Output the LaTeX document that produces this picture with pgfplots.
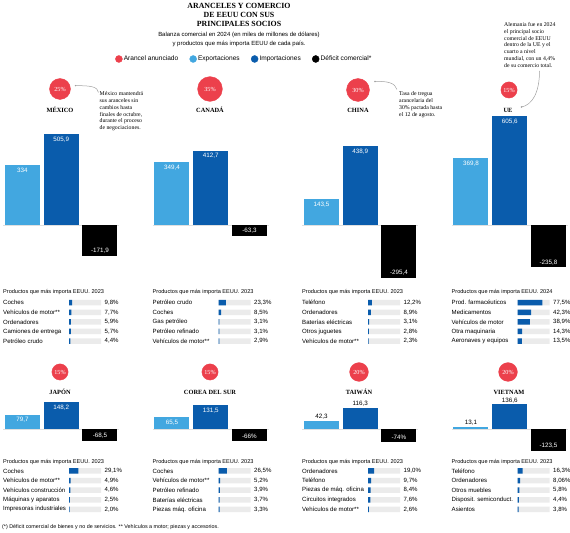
\documentclass[border=0pt]{standalone}
\usepackage{pgfplots}
\pgfplotsset{compat=1.18}
\usepackage{fontspec}
\setmainfont{Liberation Sans}
\newfontfamily\serifface{Liberation Serif}

\definecolor{tred}{RGB}{236,64,76}
\definecolor{expblue}{RGB}{66,167,224}
\definecolor{impblue}{RGB}{10,92,172}
\definecolor{trackgrey}{RGB}{235,235,235}
\definecolor{leadgrey}{RGB}{160,160,160}

\newcommand{\titlefont}{\serifface\bfseries\fontsize{7.9}{9}\selectfont}
\newcommand{\subfont}{\fontsize{6}{7}\selectfont}
\newcommand{\legfont}{\fontsize{6.6}{7}\selectfont}
\newcommand{\countryfont}{\serifface\bfseries\fontsize{6.4}{7}\selectfont}
\newcommand{\notefont}{\serifface\fontsize{5.8}{6.8}\selectfont}
\newcommand{\bubblefont}{\serifface\fontsize{6.2}{6.5}\selectfont}
\newcommand{\barfont}{\fontsize{6.3}{7}\selectfont}
\newcommand{\listfont}{\fontsize{6.1}{7}\selectfont}
\newcommand{\headfont}{\fontsize{5.6}{7}\selectfont}
\newcommand{\footfont}{\fontsize{5.4}{7}\selectfont}

\pgfplotsset{
  barpanel/.style={hide axis, clip=false, anchor=south west,
    x=38.75bp, y=0.18bp, xmin=-0.5, xmax=2.5, ymin=-300, ymax=620,
    ybar, bar width=35bp, bar shift=0pt,
    point meta=explicit symbolic, nodes near coords,
    every node near coord/.append style={font=\barfont, inner sep=1bp},
    every axis plot/.append style={draw=none}},
  inlab/.style={every node near coord/.append style={anchor=north, yshift=-1.6bp, text=white}},
  toplab/.style={every node near coord/.append style={anchor=south, yshift=0.4bp, text=black}},
  neglab/.style={every node near coord/.append style={anchor=south, yshift=1.4bp, text=white}},
  prodpanel/.style={anchor=north west, clip=false,
    x=0.32bp, y=9.6bp, xmin=0, xmax=100, ymin=-0.5, ymax=4.5, y dir=reverse,
    xbar, bar width=5.5bp, bar shift=0pt,
    axis line style={draw=none}, xtick=\empty, ytick={0,1,2,3,4},
    major tick length=0pt,
    yticklabel style={anchor=west, xshift=-66bp, inner sep=0pt, font=\listfont},
    every axis plot/.append style={draw=none}},
}

% announced tariff bubble: x, y, tariff in % (area grows with the tariff)
\newcommand{\bubble}[3]{%
  \addplot[only marks, mark=*, color=tred, mark size={2.1*sqrt(#3)},
    point meta=explicit symbolic, nodes near coords,
    every node near coord/.append style={anchor=center, text=white,
      font=\bubblefont, inner sep=0pt}]
    coordinates {(#1,#2) [#3\%]};}

% exports, imports and deficit of one partner (values in bn USD)
\newcommand{\tradebars}[9]{%
  \begin{axis}[barpanel, at={(#1bp,#2bp)}]
    \draw[black!12, line width=0.6bp] (axis cs:-0.5,0) -- (axis cs:2.5,0);
    \addplot[fill=expblue, #9] coordinates {(0,#3) [#4]};
    \addplot[fill=impblue, #9] coordinates {(1,#5) [#6]};
    \addplot[fill=black, neglab] coordinates {(2,#7) [#8]};
  \end{axis}}

% top five imported products, share in %
\newcommand{\prodlist}[4]{%
  \begin{axis}[prodpanel, at={(#1bp,#2bp)}, yticklabels={#3}]
    \addplot[fill=trackgrey] coordinates {(100,0) (100,1) (100,2) (100,3) (100,4)};
    \addplot[fill=impblue, point meta=explicit symbolic, nodes near coords,
      visualization depends on={x \as \xv},
      every node near coord/.append style={anchor=west, font=\listfont, inner sep=1bp, text=black,
        xshift={(100-\xv)*0.32bp+2.5bp}}] coordinates {#4};
  \end{axis}}

\begin{document}
\begin{tikzpicture}[x=1bp, y=1bp]
\path[use as bounding box] (0,0) rectangle (570,533);

% header
\node[font=\titlefont, anchor=mid, inner sep=0] at (239,527) {ARANCELES Y COMERCIO};
\node[font=\titlefont, anchor=mid, inner sep=0] at (239,518) {DE EEUU CON SUS};
\node[font=\titlefont, anchor=mid, inner sep=0] at (239,509) {PRINCIPALES SOCIOS};
\node[font=\subfont, anchor=mid, inner sep=0] at (239,499) {Balanza comercial en 2024 (en miles de millones de dólares)};
\node[font=\subfont, anchor=mid, inner sep=0] at (239,490) {y productos que más importa EEUU de cada país.};

% tariff bubbles and legend
\begin{axis}[at={(0bp,0bp)}, anchor=south west, x=1bp, y=1bp,
    xmin=0, xmax=570, ymin=0, ymax=533, hide axis, clip=false,
    legend style={at={(axis cs:115,474)}, anchor=west, draw=none, fill=none,
      inner sep=0pt, legend columns=4, font=\legfont, nodes={inner sep=1.2bp},
      /tikz/every even column/.append style={column sep=10bp}},
    legend cell align=left]
  \addlegendimage{legend image code/.code={\fill[tred] (3.5bp,0bp) circle (3.5bp);}}
  \addlegendentry{Arancel anunciado}
  \addlegendimage{legend image code/.code={\fill[expblue] (3.5bp,0bp) circle (3.5bp);}}
  \addlegendentry{Exportaciones}
  \addlegendimage{legend image code/.code={\fill[impblue] (3.5bp,0bp) circle (3.5bp);}}
  \addlegendentry{Importaciones}
  \addlegendimage{legend image code/.code={\fill[black] (3.5bp,0bp) circle (3.5bp);}}
  \addlegendentry{Déficit comercial*}
  \pgfplotsset{every axis plot/.append style={forget plot}}
  \bubble{60}{444}{25}
  \bubble{210}{444}{35}
  \bubble{358}{443}{30}
  \bubble{509}{443}{15}
  \bubble{60}{161}{15}
  \bubble{210}{161}{15}
  \bubble{359}{161}{20}
  \bubble{508}{161}{20}
\end{axis}

% country names
\foreach \px/\py/\nm in {60/423/MÉXICO, 210/423/CANADÁ, 358/423/CHINA, 508/423/UE,
  60/141/JAPÓN, 210/141/COREA DEL SUR, 359/141/TAIWÁN, 509/141/VIETNAM}
  \node[font=\countryfont, anchor=mid, inner sep=0] at (\px,\py) {\nm};

% notes with leader lines
\node[font=\notefont, anchor=north west, align=left, inner sep=0] at (99.5,441.4)
  {México mantendrá\\sus aranceles sin\\cambios hasta\\finales de octubre,\\durante el proceso\\de negociaciones.};
\draw[leadgrey, line width=0.5bp] (98.5,440.5) .. controls (97.5,446) and (92,447.5) .. (75.5,447.3);
\fill[leadgrey] (75.5,447.3) circle (0.8);

\node[font=\notefont, anchor=north west, align=left, inner sep=0] at (399,441.4)
  {Tasa de tregua\\arancelaria del\\30\% pactada hasta\\el 12 de agosto.};
\draw[leadgrey, line width=0.5bp] (397,443.5) .. controls (395,450) and (388,452) .. (375,451.5);
\fill[leadgrey] (375,451.5) circle (0.8);

\node[font=\notefont, anchor=north west, align=left, inner sep=0] at (504,510.7)
  {Alemania fue en 2024\\el principal socio\\comercial de EEUU\\dentro de la UE y el\\cuarto a nivel\\mundial, con un 4,4\%\\de su comercio total.};
\draw[leadgrey, line width=0.5bp] (539.5,462) .. controls (539.5,440) and (532,428) .. (521.5,426);
\fill[leadgrey] (521.5,426) circle (0.8);

% trade balance bars
\tradebars{3.1}{254}{334}{334}{505.9}{{505,9}}{-171.9}{{-171,9}}{inlab}
\tradebars{152.6}{254}{349.4}{{349,4}}{412.7}{{412,7}}{-63.3}{{-63,3}}{inlab}
\tradebars{302.1}{254}{143.5}{{143,5}}{438.9}{{438,9}}{-295.4}{{-295,4}}{inlab}
\tradebars{451.6}{254}{369.8}{{369,8}}{605.6}{{605,6}}{-235.8}{{-235,8}}{inlab}
\tradebars{3.1}{50}{79.7}{{79,7}}{148.2}{{148,2}}{-68.5}{{-68,5}}{inlab}
\tradebars{152.6}{50}{65.5}{{65,5}}{131.5}{{131,5}}{-66}{{-66\%}}{inlab}
\tradebars{302.1}{50}{42.3}{{42,3}}{116.3}{{116,3}}{-74}{{-74\%}}{toplab}
\tradebars{451.6}{50}{13.1}{{13,1}}{136.6}{{136,6}}{-123.5}{{-123,5}}{toplab}

% product list headings
\foreach \px/\py/\yr in {3/242/2023, 152.5/242/2023, 302/242/2023, 451.5/242/2024,
  3/72/2023, 152.5/72/2023, 302/72/2023, 451.5/72/2023}
  \node[font=\headfont, anchor=mid west, inner sep=0] at (\px,\py) {Productos que más importa EEUU. \yr};

% product lists
\prodlist{69}{235.1}{Coches,Vehículos de motor**,Ordenadores,Camiones de entrega,Petróleo crudo}
  {(9.8,0) [{9,8\%}] (7.7,1) [{7,7\%}] (5.9,2) [{5,9\%}] (5.7,3) [{5,7\%}] (4.4,4) [{4,4\%}]}
\prodlist{218.5}{235.1}{Petróleo crudo,Coches,Gas petróleo,Petróleo refinado,Vehículos de motor**}
  {(23.3,0) [{23,3\%}] (8.5,1) [{8,5\%}] (3.1,2) [{3,1\%}] (3.1,3) [{3,1\%}] (2.9,4) [{2,9\%}]}
\prodlist{368}{235.1}{Teléfono,Ordenadores,Baterías eléctricas,Otros juguetes,Vehículos de motor**}
  {(12.2,0) [{12,2\%}] (8.9,1) [{8,9\%}] (3.1,2) [{3,1\%}] (2.8,3) [{2,8\%}] (2.3,4) [{2,3\%}]}
\prodlist{517.5}{235.1}{Prod. farmacéuticos,Medicamentos,Vehículos de motor,Otra maquinaria,Aeronaves y equipos}
  {(77.5,0) [{77,5\%}] (42.3,1) [{42,3\%}] (38.9,2) [{38,9\%}] (14.3,3) [{14,3\%}] (13.5,4) [{13,5\%}]}
\prodlist{69}{66.8}{Coches,Vehículos de motor**,Vehículos construcción,Máquinas y aparatos,Impresoras industriales}
  {(29.1,0) [{29,1\%}] (4.9,1) [{4,9\%}] (4.6,2) [{4,6\%}] (2.5,3) [{2,5\%}] (2.0,4) [{2,0\%}]}
\prodlist{218.5}{66.8}{Coches,Vehículos de motor**,Petróleo refinado,Baterías eléctricas,Piezas máq. oficina}
  {(26.5,0) [{26,5\%}] (5.2,1) [{5,2\%}] (3.9,2) [{3,9\%}] (3.7,3) [{3,7\%}] (3.3,4) [{3,3\%}]}
\prodlist{368}{66.8}{Ordenadores,Teléfono,Piezas de máq. oficina,Circuitos integrados,Vehículos de motor**}
  {(19.0,0) [{19,0\%}] (9.7,1) [{9,7\%}] (8.4,2) [{8,4\%}] (7.6,3) [{7,6\%}] (2.6,4) [{2,6\%}]}
\prodlist{517.5}{66.8}{Teléfono,Ordenadores,Otros muebles,Disposit. semiconduct.,Asientos}
  {(16.3,0) [{16,3\%}] (8.06,1) [{8,06\%}] (5.8,2) [{5,8\%}] (4.4,3) [{4,4\%}] (3.8,4) [{3,8\%}]}

% footnote
\node[font=\footfont, anchor=mid west, inner sep=0] at (2,7)
  {(*) Déficit comercial de bienes y no de servicios. ** Vehículos a motor; piezas y accesorios.};
\end{tikzpicture}
\end{document}
